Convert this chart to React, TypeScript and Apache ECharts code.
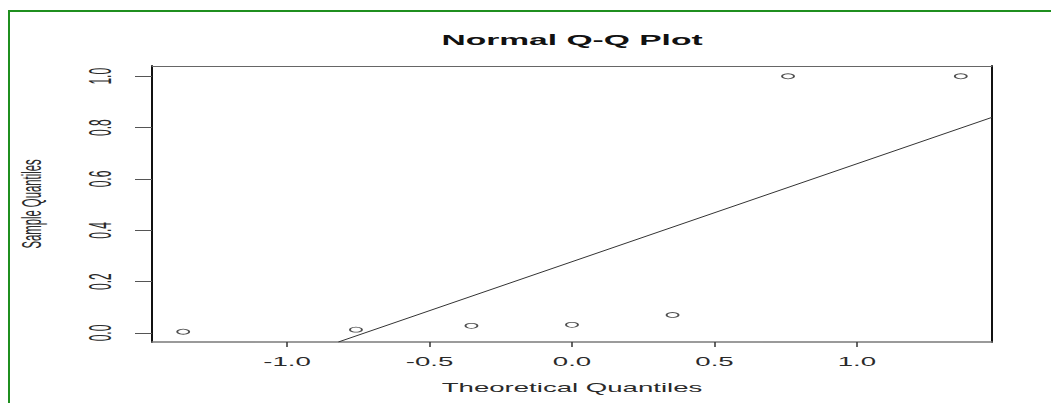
import React, { useEffect, useRef } from "react";
import * as echarts from "echarts";

// Data
const theoreticalQuantiles = [-1.3645, -0.7582, -0.3529, 0.0, 0.3529, 0.7582, 1.3645];
const sampleQuantiles = [0.005, 0.013, 0.028, 0.032, 0.07, 1.0, 1.0];
const qqLineX = [-0.82, 1.474];
const qqLineY = [-0.035, 0.84];
const xTicks = [-1.0, -0.5, 0.0, 0.5, 1.0];
const xTickLabels = ["-1.0", "-0.5", "0.0", "0.5", "1.0"];
const yTicks = [0.0, 0.2, 0.4, 0.6, 0.8, 1.0];
const yTickLabels = ["0.0", "0.2", "0.4", "0.6", "0.8", "1.0"];
const xRange = [-1.474, 1.474];
const yRange = [-0.035, 1.04];
const titleText = "Normal Q-Q Plot";
const xTitle = "Theoretical Quantiles";
const yTitle = "Sample Quantiles";

const FONT = '"Liberation Sans", Arial, sans-serif';

export default function App() {
  const ref = useRef<HTMLDivElement>(null);

  useEffect(() => {
    if (!ref.current) return;
    const chart = echarts.init(ref.current, undefined, { renderer: "svg" });

    const points = theoreticalQuantiles.map((x, i) => [x, sampleQuantiles[i]]);
    const linePts = qqLineX.map((x, i) => [x, qqLineY[i]]);

    chart.setOption({
      animation: false,
      backgroundColor: "#ffffff",
      grid: { left: 152, right: 59, top: 66, bottom: 61 },
      xAxis: [
        {
          type: "value",
          min: xRange[0],
          max: xRange[1],
          position: "bottom",
          axisLine: { show: true, onZero: false, lineStyle: { color: "#7a7a7a", width: 1.5 } },
          axisTick: { show: true, length: 5, customValues: xTicks, lineStyle: { color: "#333", width: 1.5 } },
          axisLabel: { show: false },
          splitLine: { show: false },
        },
        {
          type: "value",
          min: xRange[0],
          max: xRange[1],
          position: "top",
          axisLine: { show: true, onZero: false, lineStyle: { color: "#666", width: 1 } },
          axisTick: { show: false },
          axisLabel: { show: false },
          splitLine: { show: false },
        },
      ],
      yAxis: [
        {
          type: "value",
          min: yRange[0],
          max: yRange[1],
          position: "left",
          axisLine: { show: true, onZero: false, lineStyle: { color: "#111", width: 2 } },
          axisTick: { show: true, length: 17, customValues: yTicks, lineStyle: { color: "#555", width: 1 } },
          axisLabel: { show: false },
          splitLine: { show: false },
        },
        {
          type: "value",
          min: yRange[0],
          max: yRange[1],
          position: "right",
          axisLine: { show: true, onZero: false, lineStyle: { color: "#111", width: 2 } },
          axisTick: { show: false },
          axisLabel: { show: false },
          splitLine: { show: false },
        },
      ],
      series: [
        {
          type: "line",
          data: linePts,
          xAxisIndex: 0,
          yAxisIndex: 0,
          showSymbol: false,
          symbol: "none",
          clip: true,
          lineStyle: { color: "#333", width: 1 },
          z: 2,
        },
        {
          type: "scatter",
          data: points,
          xAxisIndex: 0,
          yAxisIndex: 0,
          symbol: "circle",
          symbolSize: [12, 5],
          itemStyle: { color: "rgba(255,255,255,0)", borderColor: "#222", borderWidth: 1.2 },
          z: 3,
        },
      ],
    });

    const px = (v: number) => chart.convertToPixel({ xAxisIndex: 0 }, v) as number;
    const py = (v: number) => chart.convertToPixel({ yAxisIndex: 0 }, v) as number;

    const xMid = px((xRange[0] + xRange[1]) / 2);
    const yMid = py((yRange[0] + yRange[1]) / 2);

    const mkText = (
      text: string,
      x: number,
      y: number,
      size: number,
      extra: any = {},
      weight = "normal",
      fill = "#2a2a2a"
    ) => ({
      type: "text",
      x,
      y,
      silent: true,
      ...extra,
      style: {
        text,
        fontSize: size,
        fontFamily: FONT,
        fontWeight: weight,
        fill,
        align: "center",
        verticalAlign: "middle",
        textAlign: "center",
        textVerticalAlign: "middle",
      },
    });

    const graphics: any[] = [
      {
        type: "rect",
        silent: true,
        shape: { x: 9, y: 11, width: 1200, height: 600 },
        style: { fill: "none", stroke: "#1f8f1f", lineWidth: 2 },
        z: 10,
      },
      mkText(titleText, xMid, 40, 14, { scaleX: 2.4 }, "bold", "#111"),
      mkText(xTitle, xMid, 388, 12, { scaleX: 2.3 }),
      mkText(yTitle, 32, yMid, 11.3, { rotation: Math.PI / 2, scaleY: 2.5 }),
    ];
    xTicks.forEach((v, i) => {
      graphics.push(mkText(xTickLabels[i], px(v), 362, 12, { scaleX: 2.3 }));
    });
    yTicks.forEach((v, i) => {
      graphics.push(mkText(yTickLabels[i], 100, py(v), 12, { rotation: Math.PI / 2, scaleY: 2.6 }));
    });

    chart.setOption({ graphic: graphics });

    return () => {
      chart.dispose();
    };
  }, []);

  return (
    <div
      ref={ref}
      style={{ position: "fixed", left: 0, top: 0, width: 1051, height: 403, background: "#fff" }}
    />
  );
}
